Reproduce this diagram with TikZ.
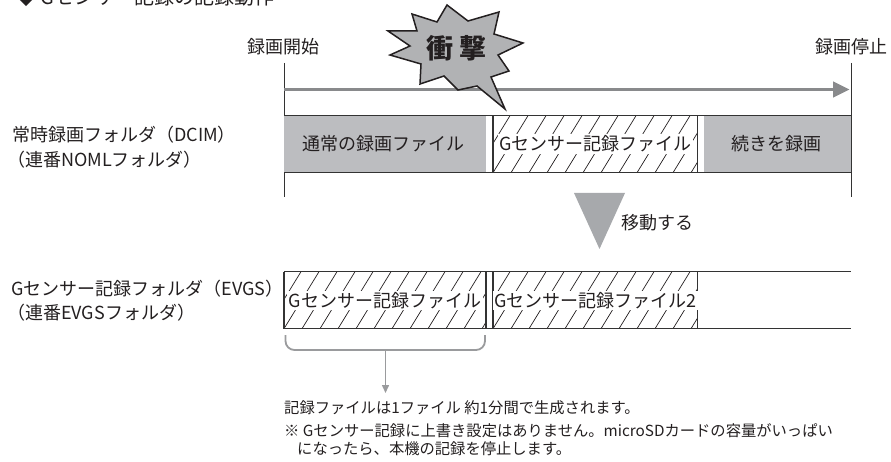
\documentclass[tikz,border=0pt]{standalone}
\usepackage{fontspec}
\newfontfamily\jp{Noto Sans CJK JP}
\usetikzlibrary{arrows.meta}
\definecolor{ink}{HTML}{231F20}
\definecolor{boxgray}{HTML}{BCBDC0}
\definecolor{arrowgray}{HTML}{898A8C}
\definecolor{trigray}{HTML}{A7A9AC}
\definecolor{stargray}{HTML}{B1B2B4}
\definecolor{bracegray}{HTML}{9A9B9D}
\definecolor{linegray}{HTML}{333333}
\newcommand\hatchcell[4]{%
  \begin{scope}
    \clip (#1,#2) rectangle (#3,#4);
    \foreach \i in {-2,...,12} {\draw[hatchline] ({#1+\i*18},#4) -- ++(35,-57);}
  \end{scope}
  \draw[cellline] (#1,#2) -- (#1,#4) (#3,#2) -- (#3,#4);
}
\begin{document}
\begin{tikzpicture}[x=1pt,y=-1pt,
  lab/.style={font=\jp\fontsize{18pt}{20pt}\selectfont, text=ink, inner sep=0pt},
  note/.style={font=\jp\fontsize{15.3pt}{18pt}\selectfont, text=ink, inner sep=0pt, anchor=west},
  celltext/.style={lab, fill=white, inner sep=1.5pt},
  hatchline/.style={line width=0.7pt, ink},
  cellline/.style={line width=1.1pt, linegray},
  vline/.style={line width=1pt, linegray}]
\useasboundingbox (0,0) rectangle (891,462);

% heading (cut at top, as in the reference)
\node[font=\jp\fontsize{20pt}{22pt}\selectfont, text=ink, inner sep=0pt, anchor=base west] (head) at (16,5) {◆ Gセンサー記録の記録動作};

% start / stop labels
\node[lab] (start) at (283,47) {録画開始};
\node[lab] (stop) at (851,47) {録画停止};

% vertical lines
\coordinate (vl1) at (284,63); \coordinate (vl2) at (284,197);
\coordinate (vr1) at (851,63); \coordinate (vr2) at (851,197);
\draw[vline] (vl1) -- (vl2);
\draw[vline] (vr1) -- (vr2);

% timeline arrow
\coordinate (tstart) at (284,89.5);
\coordinate (tend) at (849.5,89.5);
\draw[arrowgray, line width=3pt, -{Triangle[length=16.5pt,width=15.6pt]}] (tstart) -- (tend);

% row 1
\fill[boxgray] (284,115.7) rectangle (486,172.7);
\fill[boxgray] (704,115.7) rectangle (851,172.7);
\hatchcell{493}{115.7}{697.7}{172.7}
\draw[cellline] (284,115.7) -- (851,115.7) (284,172.7) -- (851,172.7);
\node[lab] (r1a) at (383,144) {通常の録画ファイル};
\node[celltext] (r1b) at (595.3,144) {Gセンサー記録ファイル};
\node[lab] (r1c) at (776.5,144) {続きを録画};

% row labels
\node[lab, anchor=west] (f1a) at (12,135) {常時録画フォルダ（DCIM）};
\node[lab, anchor=west] (f1b) at (7,160) {（連番NOMLフォルダ）};
\node[lab, anchor=west] (f2a) at (11,289) {Gセンサー記録フォルダ（EVGS）};
\node[lab, anchor=west] (f2b) at (7,313) {（連番EVGSフォルダ）};

% star
\draw[line width=1.5pt, ink, fill=stargray, line join=miter]
  (388,31) -- (417,31) -- (412,14) -- (437,22) -- (447,5) -- (468,21)
  -- (499,12) -- (494,34) -- (523,43) -- (498,55) -- (509,71) -- (491,77)
  -- (505,109) -- (477,86) -- (458,90) -- (444,76) -- (420,84) -- (421,64)
  -- (390,55) -- (410,46) -- cycle;
\node[font=\jp\bfseries\fontsize{27pt}{29pt}\selectfont, text=ink, inner sep=0pt] (shock) at (456.5,48.5) {衝 撃};

% move triangle
\fill[trigray] (574,193) -- (625,193) -- (599.5,249) -- cycle;
\node[lab] (move) at (657,223) {移動する};

% row 2
\hatchcell{284}{271.7}{486}{328.7}
\hatchcell{493}{271.7}{697.7}{328.7}
\draw[cellline] (284,271.7) -- (851,271.7) (284,328.7) -- (851,328.7);
\node[celltext] (r2a) at (385,300.5) {Gセンサー記録ファイル};
\node[celltext] (r2b) at (595.3,300.5) {Gセンサー記録ファイル2};

% brace and arrow
\draw[bracegray, line width=1.8pt, rounded corners=9pt] (285.5,335) -- (285.5,350) -- (485,350) -- (485,335);
\coordinate (bmid) at (385.5,350);
\coordinate (btip) at (385.5,393);
\draw[bracegray, line width=1.5pt, -{Triangle[length=8pt,width=7pt]}] (bmid) -- (btip);

% notes
\node[note] (n1) at (284,408) {記録ファイルは1ファイル 約1分間で生成されます。};
\node[note] (n2) at (284,431) {※ Gセンサー記録に上書き設定はありません。microSDカードの容量がいっぱい};
\node[note] (n3) at (297,449) {になったら、本機の記録を停止します。};
\end{tikzpicture}
\end{document}
